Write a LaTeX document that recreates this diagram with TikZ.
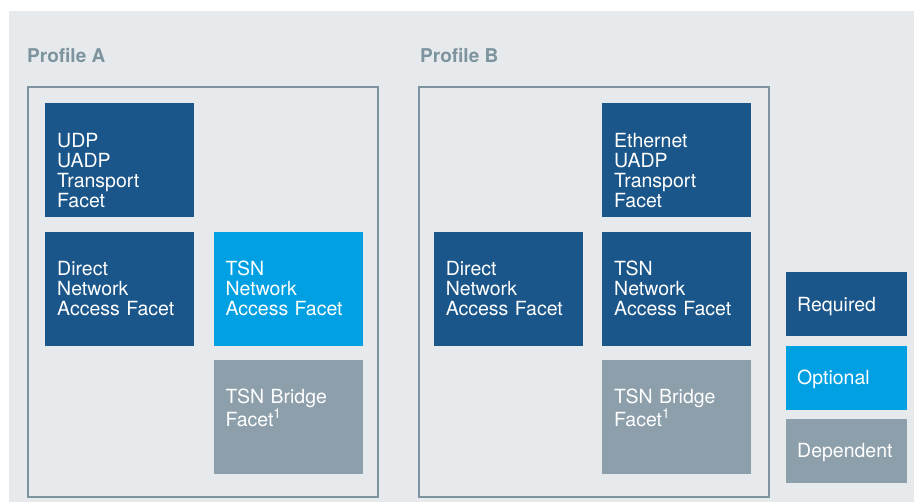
\documentclass[tikz,border=0pt]{standalone}
\usepackage{fontspec}
\setmainfont{TeX Gyre Heros}
\usetikzlibrary{positioning}
\definecolor{bgGray}{HTML}{E6EAED}
\definecolor{frameGray}{HTML}{7D939D}
\definecolor{reqBlue}{HTML}{1B568A}
\definecolor{optBlue}{HTML}{00A0E2}
\definecolor{depGray}{HTML}{8C9FAA}
\tikzset{
  frame/.style={draw=frameGray, line width=2pt, minimum width=350pt, minimum height=410pt, inner sep=0pt, anchor=north west},
  profile/.style={text=frameGray, font=\bfseries\fontsize{19}{22}\selectfont, inner sep=0pt, anchor=base west},
  facet/.style={text=white, font=\fontsize{19.5}{20}\selectfont, align=left, text width=125pt, inner xsep=12pt, inner ysep=0pt, text height=44pt, text depth=70pt},
  legend/.style={text=white, font=\fontsize{19.5}{20}\selectfont, align=left, text width=99pt, inner xsep=11pt, inner ysep=0pt, text height=14pt, text depth=0pt, minimum height=64pt}
}
\begin{document}
\begin{tikzpicture}[x=1pt, y=-1pt]
\useasboundingbox (0,0) rectangle (914,502);
\fill[bgGray] (9,11) rectangle (914,502);
% Profile A
\node[frame] (frameA) at (27,86) {};
\node[profile] (labA) at ([yshift=23pt]frameA.north west) {Profile A};
\node[facet, fill=reqBlue, anchor=north west] (udpA) at (45,103) {UDP\\UADP\\Transport\\Facet};
\node[facet, fill=reqBlue, below=14pt of udpA] (directA) {Direct\\Network\\Access Facet};
\node[facet, fill=optBlue, right=19pt of directA] (tsnA) {TSN\\Network\\Access Facet};
\node[facet, fill=depGray, below=14pt of tsnA] (bridgeA) {TSN Bridge\\Facet\textsuperscript{1}};
% Profile B
\node[frame] (frameB) at (418,86) {};
\node[profile] (labB) at ([xshift=2pt, yshift=23pt]frameB.north west) {Profile B};
\node[facet, fill=reqBlue, anchor=north west] (ethB) at (602,103) {Ethernet\\UADP\\Transport\\Facet};
\node[facet, fill=reqBlue, below=14pt of ethB] (tsnB) {TSN\\Network\\Access Facet};
\node[facet, fill=reqBlue, left=19pt of tsnB] (directB) {Direct\\Network\\Access Facet};
\node[facet, fill=depGray, below=14pt of tsnB] (bridgeB) {TSN Bridge\\Facet\textsuperscript{1}};
% legend
\node[legend, fill=reqBlue, anchor=north west] (req) at (786,272) {Required};
\node[legend, fill=optBlue, below=9pt of req] (opt) {Optional};
\node[legend, fill=depGray, below=9pt of opt] (dep) {Dependent};
\end{tikzpicture}
\end{document}
